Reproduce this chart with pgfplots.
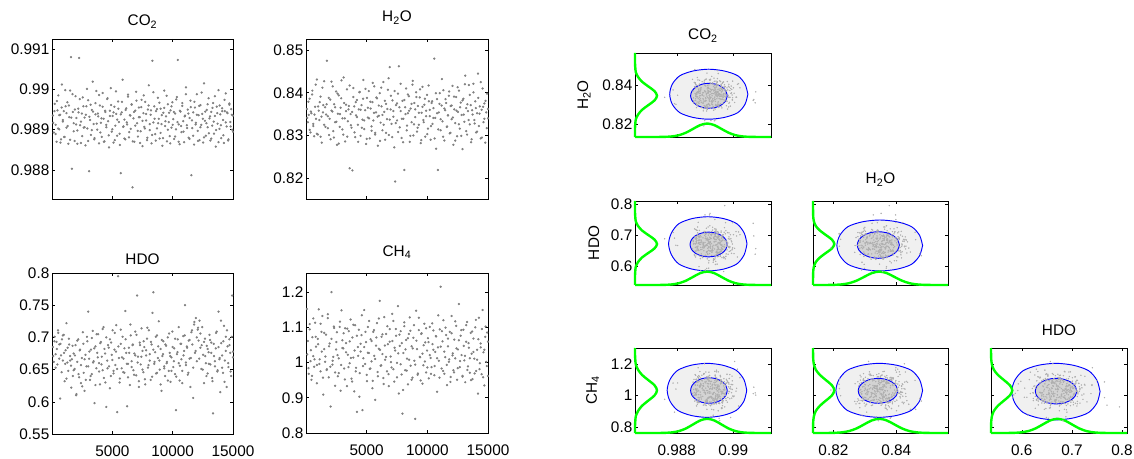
\documentclass[border=0pt]{standalone}
\usepackage{fontspec}
\setmainfont{Liberation Sans}
\usepackage{pgfplots}
\usepackage{pgfplotstable}
\pgfplotsset{compat=1.18}
\definecolor{mgreen}{RGB}{0,255,0}
\definecolor{mblue}{RGB}{0,0,255}
\definecolor{dotgray}{RGB}{128,128,128}
\definecolor{cloudgray}{RGB}{175,175,175}

\pgfplotstableread{
it co2 h2o hdo ch4
75 0.98935 0.8362 0.685 1.152
150 0.98893 0.8331 0.662 1.061
225 0.98964 0.8348 0.701 0.968
300 0.98912 0.8386 0.674 1.109
375 0.98870 0.8307 0.693 1.004
450 0.98948 0.8352 0.658 0.951
525 0.98985 0.8405 0.707 1.072
600 0.98901 0.8322 0.689 1.018
675 0.98937 0.8298 0.605 0.988
750 0.98876 0.8367 0.672 1.113
825 0.99012 0.8339 0.697 1.045
900 0.98920 0.8431 0.664 0.993
975 0.98946 0.8302 0.704 1.067
1050 0.98882 0.8358 0.632 1.151
1125 0.98958 0.8378 0.680 1.009
1200 0.98905 0.8297 0.722 0.975
1275 0.98968 0.8344 0.661 1.087
1350 0.98865 0.8412 0.648 1.132
1425 0.98931 0.8371 0.689 0.909
1500 0.98997 0.8325 0.671 1.038
1575 0.99080 0.8366 0.656 1.002
1650 0.98803 0.8349 0.666 1.079
1725 0.98944 0.8475 0.640 0.981
1800 0.98916 0.8317 0.675 1.126
1875 0.98872 0.8388 0.651 0.958
1950 0.98983 0.8339 0.688 1.054
2025 0.98929 0.8291 0.612 0.875
2100 0.98898 0.8426 0.662 1.200
2175 0.98952 0.8356 0.697 0.994
2250 0.99078 0.8310 0.638 1.016
2325 0.98911 0.8373 0.681 1.098
2400 0.98867 0.8331 0.629 0.972
2475 0.98940 0.8403 0.668 1.037
2550 0.98980 0.8278 0.708 1.086
2625 0.98905 0.8351 0.645 0.961
2700 0.98930 0.8394 0.617 1.012
2775 0.98861 0.8320 0.673 1.101
2850 0.98958 0.8365 0.655 0.920
2925 0.98903 0.8429 0.694 1.148
3000 0.98973 0.8340 0.740 1.063
3075 0.98797 0.8302 0.667 1.040
3150 0.98924 0.8376 0.634 0.983
3225 0.98887 0.8286 0.681 1.097
3300 0.98949 0.8357 0.643 1.055
3375 0.99019 0.8408 0.710 0.933
3450 0.98914 0.8333 0.663 1.022
3525 0.98879 0.8369 0.598 1.089
3600 0.98938 0.8223 0.686 0.998
3675 0.98996 0.8350 0.652 1.122
3750 0.98900 0.8318 0.676 0.954
3825 0.98933 0.8218 0.705 1.071
3900 0.98866 0.8411 0.660 1.014
3975 0.98960 0.8368 0.627 0.918
4050 0.98917 0.8296 0.693 1.106
4125 0.98882 0.8347 0.670 0.985
4200 0.98991 0.8383 0.649 0.860
4275 0.98927 0.8325 0.716 1.044
4350 0.98871 0.8361 0.682 1.093
4425 0.98944 0.8402 0.630 0.970
4500 0.98906 0.8299 0.592 1.031
4575 0.98976 0.8371 0.664 1.078
4650 0.98921 0.8337 0.688 0.865
4725 0.98856 0.8430 0.655 1.012
4800 0.98947 0.8315 0.697 1.149
4875 0.99003 0.8359 0.640 0.996
4950 0.98895 0.8280 0.673 1.058
5025 0.98934 0.8388 0.711 0.947
5100 0.98868 0.8342 0.648 1.101
5175 0.98957 0.8404 0.681 1.027
5250 0.98910 0.8293 0.657 0.982
5325 0.98939 0.8363 0.719 1.066
5400 0.98885 0.8321 0.584 1.003
5475 0.98970 0.8378 0.795 0.927
5550 0.98919 0.8335 0.668 1.087
5625 0.98862 0.8415 0.636 1.019
5700 0.98792 0.8306 0.690 0.894
5775 0.98943 0.8354 0.652 1.048
5850 0.99024 0.8387 0.701 1.112
5925 0.98908 0.8276 0.667 0.961
6000 0.98925 0.8346 0.645 1.039
6075 0.98876 0.8399 0.741 1.175
6150 0.98953 0.8330 0.676 0.991
6225 0.98913 0.8368 0.593 1.073
6300 0.98987 0.8312 0.659 1.024
6375 0.98881 0.8425 0.684 0.956
6450 0.98936 0.8355 0.626 1.129
6525 0.98902 0.8290 0.703 1.008
6600 0.98962 0.8374 0.663 1.081
6675 0.98757 0.8338 0.688 0.975
6750 0.98928 0.8407 0.649 1.052
6825 0.98870 0.8301 0.675 0.933
6900 0.98947 0.8460 0.709 1.095
6975 0.98994 0.8361 0.641 1.017
7050 0.98916 0.8327 0.765 0.986
7125 0.98883 0.8382 0.670 1.061
7200 0.98955 0.8344 0.632 1.118
7275 0.98931 0.8272 0.692 0.946
7350 0.98896 0.8192 0.658 1.034
7425 0.98974 0.8371 0.714 1.076
7500 0.98859 0.8335 0.679 0.999
7575 0.98941 0.8398 0.646 1.160
7650 0.98907 0.8462 0.685 0.912
7725 0.98969 0.8319 0.627 1.047
7800 0.98923 0.8357 0.672 1.089
7875 0.98874 0.8294 0.698 0.966
7950 0.98950 0.8381 0.653 0.855
8025 0.99010 0.8339 0.711 1.027
8100 0.98899 0.8219 0.664 1.103
8175 0.98937 0.8366 0.634 0.978
8250 0.98866 0.8410 0.689 1.064
8325 0.99071 0.8323 0.738 1.011
8400 0.98918 0.8352 0.770 0.938
8475 0.98958 0.8392 0.659 1.081
8550 0.98889 0.8285 0.677 1.128
8625 0.98946 0.8363 0.644 0.991
8700 0.98903 0.8331 0.703 1.046
8775 0.98979 0.8419 0.668 0.957
8850 0.98927 0.8300 0.725 1.070
8925 0.98878 0.8376 0.650 1.005
9000 0.98952 0.8343 0.682 0.840
9075 0.98914 0.8401 0.617 1.147
9150 0.98860 0.8309 0.671 1.038
9225 0.98942 0.8369 0.694 0.969
9300 0.98997 0.8325 0.655 1.092
9375 0.98909 0.8389 0.640 1.016
9450 0.98933 0.8282 0.687 0.949
9525 0.98871 0.8353 0.662 1.083
9600 0.98963 0.8414 0.700 1.025
9675 0.98919 0.8336 0.648 0.992
9750 0.98884 0.8372 0.676 1.110
9825 0.98948 0.8297 0.631 1.057
9900 0.98905 0.8358 0.669 0.972
9975 0.98968 0.8395 0.709 1.034
10050 0.98926 0.8316 0.654 1.069
10125 0.98877 0.8380 0.683 0.955
10200 0.98940 0.8345 0.643 1.101
10275 0.98901 0.8290 0.587 1.013
10350 0.98981 0.8376 0.674 0.987
10425 0.99073 0.8327 0.697 1.052
10500 0.98913 0.8364 0.660 1.091
10575 0.98864 0.8480 0.633 0.964
10650 0.98945 0.8341 0.690 1.030
10725 0.98894 0.8269 0.666 1.074
10800 0.98959 0.8385 0.648 0.917
10875 0.98921 0.8219 0.702 1.043
10950 0.98869 0.8354 0.679 1.005
11025 0.98935 0.8399 0.750 1.094
11100 0.99005 0.8312 0.657 1.215
11175 0.98911 0.8370 0.686 0.983
11250 0.98950 0.8333 0.642 1.060
11325 0.98880 0.8406 0.695 1.120
11400 0.98929 0.8288 0.667 0.968
11475 0.98972 0.8359 0.623 1.015
11550 0.98787 0.8376 0.708 1.078
11625 0.98904 0.8321 0.689 0.936
11700 0.98943 0.8347 0.606 1.046
11775 0.98863 0.8393 0.720 1.002
11850 0.98955 0.8305 0.676 1.087
11925 0.98917 0.8369 0.730 0.959
12000 0.98988 0.8338 0.663 1.132
12075 0.98897 0.8416 0.712 1.020
12150 0.98936 0.8278 0.695 0.978
12225 0.98874 0.8361 0.726 1.065
12300 0.98961 0.8329 0.684 1.012
12375 0.98912 0.8390 0.651 1.104
12450 0.98939 0.8298 0.716 0.951
12525 0.98868 0.8355 0.673 1.037
12600 0.99015 0.8405 0.629 1.166
12675 0.98922 0.8316 0.698 0.987
12750 0.98885 0.8377 0.660 1.076
12825 0.98949 0.8348 0.687 1.021
12900 0.98906 0.8268 0.644 0.962
12975 0.98978 0.8386 0.677 1.093
13050 0.98928 0.8332 0.704 1.006
13125 0.98873 0.8440 0.658 0.944
13200 0.98944 0.8364 0.692 1.059
13275 0.98910 0.8302 0.637 1.115
13350 0.98966 0.8357 0.582 0.989
13425 0.98890 0.8418 0.671 1.042
13500 0.98934 0.8326 0.655 0.971
13575 0.98858 0.8371 0.683 1.084
13650 0.98957 0.8291 0.709 1.025
13725 0.98915 0.8349 0.649 0.953
13800 0.98998 0.8421 0.740 1.068
13875 0.98902 0.8336 0.666 1.011
13950 0.98938 0.8380 0.615 1.100
14025 0.98879 0.8307 0.691 0.976
14100 0.98953 0.8352 0.672 1.036
14175 0.98924 0.8445 0.645 0.912
14250 0.98867 0.8322 0.718 1.127
14325 0.98946 0.8368 0.664 0.998
14400 0.98990 0.8293 0.701 1.054
14475 0.98908 0.8360 0.623 0.967
14550 0.98941 0.8410 0.686 1.149
14625 0.98876 0.8331 0.654 1.029
14700 0.98962 0.8375 0.697 0.935
14775 0.98919 0.8283 0.676 1.073
14850 0.98951 0.8354 0.640 1.002
14925 0.98900 0.8398 0.765 1.085
15000 0.98935 0.8340 0.678 0.962
100 0.98917 0.8341 0.671 1.023
200 0.98946 0.8379 0.694 0.984
300 0.98889 0.8313 0.653 1.094
400 0.98971 0.8356 0.682 1.035
500 0.98903 0.8396 0.711 0.962
600 0.98936 0.8327 0.667 1.125
700 0.98868 0.8349 0.690 1.009
800 0.98955 0.8419 0.646 1.073
900 0.98924 0.8304 0.703 0.941
1000 0.98882 0.8368 0.676 1.052
1100 0.98998 0.8336 0.659 0.996
1200 0.98941 0.8391 0.636 1.110
1300 0.98909 0.8283 0.684 1.031
1400 0.98960 0.8354 0.698 0.957
1500 0.98875 0.8427 0.664 1.084
1600 0.98930 0.8320 0.622 1.017
1700 0.98988 0.8373 0.687 0.979
1800 0.98896 0.8345 0.649 1.137
1900 0.98950 0.8301 0.672 1.046
2000 0.98913 0.8384 0.610 0.988
2100 0.98865 0.8358 0.695 1.067
2200 0.98943 0.8415 0.643 1.005
2300 0.98976 0.8295 0.680 1.102
2400 0.98920 0.8366 0.657 0.934
2500 0.98884 0.8332 0.624 1.058
2600 0.98958 0.8398 0.690 1.021
2700 0.98906 0.8281 0.666 0.970
2800 0.98937 0.8350 0.634 1.116
2900 0.99001 0.8387 0.701 0.993
3000 0.98872 0.8314 0.655 1.041
3100 0.98932 0.8436 0.678 1.083
3200 0.98962 0.8340 0.640 0.952
3300 0.98899 0.8372 0.699 1.029
3400 0.98945 0.8297 0.661 1.096
3500 0.98876 0.8361 0.683 0.987
3600 0.98966 0.8417 0.626 1.060
3700 0.98915 0.8324 0.705 1.013
3800 0.98940 0.8355 0.669 0.946
3900 0.98986 0.8390 0.647 1.107
4000 0.98893 0.8307 0.691 1.034
4100 0.98928 0.8378 0.658 0.975
4200 0.98957 0.8343 0.713 1.076
4300 0.98870 0.8285 0.637 1.019
4400 0.98947 0.8401 0.675 0.903
4500 0.98912 0.8360 0.700 1.053
4600 0.98978 0.8318 0.652 1.134
4700 0.98886 0.8386 0.684 0.990
4800 0.98934 0.8335 0.621 1.044
4900 0.98961 0.8409 0.692 1.087
5000 0.98901 0.8292 0.665 0.965
5100 0.98943 0.8365 0.644 1.028
5200 0.98874 0.8340 0.707 1.118
5300 0.98995 0.8379 0.678 0.983
5400 0.98925 0.8311 0.651 1.061
5500 0.98952 0.8423 0.686 0.948
5600 0.98890 0.8353 0.630 1.092
5700 0.98938 0.8302 0.712 1.010
5800 0.98969 0.8389 0.669 1.071
5900 0.98907 0.8344 0.646 0.973
6000 0.98878 0.8370 0.683 1.125
6100 0.98949 0.8287 0.697 1.036
6200 0.98918 0.8412 0.659 0.992
6300 0.98982 0.8348 0.638 1.080
6400 0.98894 0.8325 0.676 0.939
6500 0.98935 0.8381 0.720 1.048
6600 0.98963 0.8306 0.654 1.016
6700 0.98871 0.8362 0.689 1.103
6800 0.98944 0.8434 0.642 0.967
6900 0.98910 0.8337 0.672 1.059
7000 0.98972 0.8393 0.704 1.001
7100 0.98897 0.8296 0.661 1.138
7200 0.98931 0.8357 0.623 0.981
7300 0.98867 0.8404 0.688 1.042
7400 0.98956 0.8329 0.670 1.095
7500 0.98922 0.8375 0.650 0.958
7600 0.98985 0.8308 0.694 1.026
7700 0.98903 0.8366 0.635 1.079
7800 0.98939 0.8421 0.680 0.995
7900 0.98880 0.8339 0.715 1.055
8000 0.98960 0.8284 0.657 0.922
8100 0.98914 0.8383 0.674 1.114
8200 0.98948 0.8350 0.693 1.037
8300 0.98887 0.8312 0.639 0.977
8400 0.98993 0.8396 0.681 1.069
8500 0.98927 0.8358 0.662 1.008
8600 0.98873 0.8299 0.701 1.090
8700 0.98951 0.8374 0.645 0.951
8800 0.98916 0.8428 0.686 1.040
8900 0.98967 0.8326 0.664 1.106
9000 0.98892 0.8361 0.627 0.994
9100 0.98936 0.8390 0.696 1.062
9200 0.98879 0.8318 0.674 0.965
9300 0.98954 0.8353 0.652 1.127
9400 0.98921 0.8408 0.689 1.015
9500 0.98984 0.8289 0.660 1.081
9600 0.98900 0.8367 0.633 0.940
9700 0.98942 0.8331 0.706 1.049
9800 0.98866 0.8386 0.671 1.003
9900 0.98958 0.8345 0.648 1.097
10000 0.98912 0.8303 0.685 0.986
10100 0.98944 0.8417 0.663 1.058
10200 0.98883 0.8360 0.698 1.021
10300 0.98975 0.8322 0.639 0.968
10400 0.98919 0.8380 0.677 1.111
10500 0.98870 0.8341 0.716 1.036
10600 0.98947 0.8293 0.656 0.990
10700 0.98909 0.8399 0.690 1.075
10800 0.98966 0.8352 0.629 1.012
10900 0.98895 0.8314 0.672 1.134
11000 0.98933 0.8374 0.703 0.957
11100 0.98988 0.8338 0.661 1.045
11200 0.98904 0.8432 0.684 1.089
11300 0.98940 0.8297 0.645 0.976
11400 0.98877 0.8363 0.696 1.031
11500 0.98956 0.8385 0.668 1.099
11600 0.98923 0.8320 0.711 0.993
11700 0.98885 0.8347 0.653 1.068
11800 0.98969 0.8403 0.724 1.009
11900 0.98913 0.8306 0.679 0.945
12000 0.98937 0.8370 0.700 1.083
12100 0.98872 0.8342 0.715 1.026
12200 0.98959 0.8391 0.667 0.972
12300 0.98906 0.8288 0.706 1.117
12400 0.98992 0.8358 0.688 1.040
12500 0.98927 0.8413 0.650 0.984
12600 0.98881 0.8326 0.693 1.063
12700 0.98945 0.8366 0.671 1.004
12800 0.98916 0.8299 0.640 1.092
12900 0.98963 0.8382 0.682 0.960
13000 0.98891 0.8349 0.659 1.047
13100 0.98933 0.8420 0.696 1.019
13200 0.98878 0.8310 0.676 1.106
13300 0.98954 0.8373 0.632 0.979
13400 0.98920 0.8336 0.690 1.055
13500 0.98983 0.8395 0.663 1.012
13600 0.98899 0.8284 0.707 0.950
13700 0.98941 0.8359 0.647 1.088
13800 0.98869 0.8401 0.685 1.030
13900 0.98960 0.8328 0.668 0.969
14000 0.98911 0.8364 0.726 1.121
14100 0.98946 0.8309 0.653 1.008
14200 0.98886 0.8388 0.694 1.066
14300 0.98974 0.8351 0.631 0.981
14400 0.98918 0.8425 0.679 1.043
14500 0.98943 0.8295 0.711 1.095
14600 0.98873 0.8367 0.660 0.958
14700 0.98965 0.8339 0.688 1.036
14800 0.98908 0.8381 0.647 1.102
14900 0.98937 0.8317 0.701 0.990
15000 0.98895 0.8362 0.669 1.059
}\samples

\pgfplotstableread{
co2 h2o hdo ch4 bA bB bC lA lB lC
0.98652 0.8135 0.5385 0.7620 0.81350 0.5385 0.7620 0.98652 0.81350 0.53850
0.98733 0.8178 0.5695 0.8045 0.81352 0.5386 0.7622 0.98652 0.81352 0.53860
0.98758 0.8202 0.5840 0.8370 0.81358 0.5390 0.7630 0.98653 0.81358 0.53900
0.98783 0.8226 0.5985 0.8695 0.81380 0.5404 0.7660 0.98655 0.81380 0.54040
0.98808 0.8250 0.6130 0.9020 0.81443 0.5444 0.7742 0.98663 0.81440 0.54425
0.98833 0.8274 0.6275 0.9345 0.81574 0.5526 0.7912 0.98677 0.81570 0.55230
0.98858 0.8298 0.6420 0.9670 0.81768 0.5648 0.8166 0.98699 0.81760 0.56430
0.98883 0.8322 0.6565 0.9995 0.81959 0.5768 0.8414 0.98721 0.81950 0.57600
0.98908 0.8346 0.6710 1.0320 0.82040 0.5819 0.8520 0.98730 0.82030 0.58100
0.98933 0.8370 0.6855 1.0645 0.81959 0.5768 0.8414 0.98721 0.81950 0.57600
0.98958 0.8394 0.7000 1.0970 0.81768 0.5648 0.8166 0.98699 0.81760 0.56430
0.98983 0.8418 0.7145 1.1295 0.81574 0.5526 0.7912 0.98677 0.81570 0.55230
0.99008 0.8442 0.7290 1.1620 0.81443 0.5444 0.7742 0.98663 0.81440 0.54425
0.99033 0.8466 0.7435 1.1945 0.81380 0.5404 0.7660 0.98655 0.81380 0.54040
0.99058 0.8490 0.7580 1.2270 0.81358 0.5390 0.7630 0.98653 0.81358 0.53900
0.99083 0.8514 0.7725 1.2595 0.81352 0.5386 0.7622 0.98652 0.81352 0.53860
0.99134 0.8565 0.8100 1.3000 0.81350 0.5385 0.7620 0.98652 0.81350 0.53850
}\marg

\pgfplotsset{
  base/.style={scale only axis, anchor=north west, scaled ticks=false,
    tick align=inside, major tick length=2.5pt,
    axis line style={line width=0.5pt},
    every tick/.style={black, line width=0.4pt},
    tick label style={font=\fontsize{11.5}{13}\selectfont},
    xticklabel style={yshift=-5pt},
    yticklabel style={xshift=1.5pt},
    title style={font=\fontsize{11.5}{13}\selectfont, at={(0.5,1)}, anchor=base},
    label style={font=\fontsize{11.5}{13}\selectfont},
    /pgf/number format/assume math mode=true},
  ts/.style={base, xmin=0, xmax=15000, xtick={5000,10000,15000}},
  pp/.style={base, clip=false, ylabel shift=2pt},
  dots/.style={only marks, color=dotgray, fill=dotgray, mark=*, mark size=0.65pt, mark options={draw=none, fill=dotgray}},
  cloud/.style={only marks, color=cloudgray, fill=cloudgray, mark=*, mark size=0.3pt, mark options={draw=none, fill=cloudgray}},
  outerc/.style={mblue, line width=0.7pt, smooth, fill=black, fill opacity=0.06},
  innerc/.style={mblue, line width=0.7pt, smooth, fill=black, fill opacity=0.12},
  marg/.style={mgreen, line width=1.8pt, smooth},
}

\begin{document}
\begin{tikzpicture}
\useasboundingbox (0,0) rectangle (850.5pt,-344.25pt);

% ---------------- left: traces ----------------
\begin{axis}[ts, at={(39pt,-29.25pt)}, width=135.75pt, height=120pt,
  ymin=0.98728, ymax=0.99125, ytick={0.988,0.989,0.99,0.991},
  yticklabels={0.988,0.989,0.99,0.991}, xticklabels={},
  title={CO\textsubscript{2}}, title style={yshift=4pt}]
\addplot[dots] table[x=it,y=co2]{\samples};
\end{axis}

\begin{axis}[ts, at={(229.5pt,-29.25pt)}, width=136.5pt, height=120pt,
  ymin=0.8151, ymax=0.8526, ytick={0.82,0.83,0.84,0.85},
  yticklabels={0.82,0.83,0.84,0.85}, xticklabels={},
  title={H\textsubscript{2}O}, title style={yshift=7pt}]
\addplot[dots] table[x=it,y=h2o]{\samples};
\end{axis}

\begin{axis}[ts, at={(39pt,-204.75pt)}, width=135.75pt, height=120.75pt,
  ymin=0.55, ymax=0.8, ytick={0.55,0.6,0.65,0.7,0.75,0.8},
  yticklabels={0.55,0.6,0.65,0.7,0.75,0.8}, xticklabels={5000,10000,15000},
  title={HDO}, title style={yshift=0.5pt}]
\addplot[dots] table[x=it,y=hdo]{\samples};
\end{axis}

\begin{axis}[ts, at={(229.5pt,-204.75pt)}, width=136.5pt, height=120pt,
  ymin=0.8, ymax=1.254, ytick={0.8,0.9,1,1.1,1.2},
  yticklabels={0.8,0.9,1,1.1,1.2}, xticklabels={5000,10000,15000},
  title={CH\textsubscript{4}}, title style={yshift=6.5pt}]
\addplot[dots] table[x=it,y=ch4]{\samples};
\end{axis}

% ---------------- right: pairs ----------------
% R1: CO2 vs H2O
\begin{axis}[pp, at={(476.25pt,-39.75pt)}, width=102pt, height=63pt,
  xmin=0.98652, xmax=0.99134, ymin=0.8135, ymax=0.8565,
  xtick={0.988,0.99}, xticklabels={}, ytick={0.82,0.84}, yticklabels={0.82,0.84},
  ylabel={H\textsubscript{2}O}, title={CO\textsubscript{2}}, title style={yshift=4pt}]
\addplot[cloud] table[x=co2,y=h2o]{\samples};
\addplot[outerc] coordinates {(0.99052,0.8354) (0.99042,0.84052) (0.99016,0.84487) (0.98968,0.8473) (0.98913,0.8482) (0.98858,0.8473) (0.98811,0.84487) (0.98784,0.84052) (0.98775,0.8354) (0.98784,0.83028) (0.98811,0.82593) (0.98858,0.8235) (0.98913,0.8226) (0.98968,0.8235) (0.99016,0.82593) (0.99042,0.83028) (0.99052,0.8354)};
\addplot[innerc] coordinates {(0.98979,0.8346) (0.98974,0.83705) (0.98960,0.83912) (0.98939,0.84051) (0.98914,0.8410) (0.98889,0.84051) (0.98868,0.83912) (0.98854,0.83705) (0.98849,0.8346) (0.98854,0.83215) (0.98868,0.83008) (0.98889,0.82869) (0.98914,0.8282) (0.98939,0.82869) (0.98960,0.83008) (0.98974,0.83215) (0.98979,0.8346)};
\addplot[marg] table[x=co2,y=bA]{\marg};
\addplot[marg] table[x=lA,y=h2o]{\marg};
\end{axis}

% R2a: CO2 vs HDO
\begin{axis}[pp, at={(476.25pt,-150.75pt)}, width=102pt, height=63pt,
  xmin=0.98652, xmax=0.99134, ymin=0.5385, ymax=0.81,
  xtick={0.988,0.99}, xticklabels={}, ytick={0.6,0.7,0.8}, yticklabels={0.6,0.7,0.8},
  ylabel={HDO}]
\addplot[cloud] table[x=co2,y=hdo]{\samples};
\addplot[outerc] coordinates {(0.99049,0.6715) (0.99039,0.7066) (0.99013,0.7364) (0.98966,0.7531) (0.9891,0.7592) (0.98854,0.7531) (0.98807,0.7364) (0.98781,0.7066) (0.98771,0.6715) (0.98781,0.6364) (0.98807,0.6066) (0.98854,0.5899) (0.9891,0.5838) (0.98966,0.5899) (0.99013,0.6066) (0.99039,0.6364) (0.99049,0.6715)};
\addplot[innerc] coordinates {(0.98979,0.6694) (0.98974,0.6847) (0.98960,0.6977) (0.98938,0.7064) (0.98913,0.7094) (0.98888,0.7064) (0.98866,0.6977) (0.98852,0.6847) (0.98847,0.6694) (0.98852,0.6541) (0.98866,0.6411) (0.98888,0.6324) (0.98913,0.6294) (0.98938,0.6324) (0.98960,0.6411) (0.98974,0.6541) (0.98979,0.6694)};
\addplot[marg] table[x=co2,y=bB]{\marg};
\addplot[marg] table[x=lA,y=hdo]{\marg};
\end{axis}

% R2b: H2O vs HDO
\begin{axis}[pp, at={(609.75pt,-150.75pt)}, width=101.25pt, height=63pt,
  xmin=0.8135, xmax=0.8565, ymin=0.5385, ymax=0.81,
  xtick={0.82,0.84}, xticklabels={}, ytick={0.6,0.7,0.8}, yticklabels={},
  title={H\textsubscript{2}O}, title style={yshift=7pt}]
\addplot[cloud] table[x=h2o,y=hdo]{\samples};
\addplot[outerc] coordinates {(0.8484,0.6662) (0.84744,0.69916) (0.84485,0.7272) (0.84021,0.74283) (0.83475,0.7486) (0.82929,0.74283) (0.82465,0.7272) (0.82206,0.69916) (0.8211,0.6662) (0.82206,0.63324) (0.82465,0.6052) (0.82929,0.58957) (0.83475,0.5838) (0.84021,0.58957) (0.84485,0.6052) (0.84744,0.63324) (0.8484,0.6662)};
\addplot[innerc] coordinates {(0.8410,0.6678) (0.84049,0.68427) (0.83904,0.6982) (0.83687,0.70753) (0.8343,0.7108) (0.83173,0.70753) (0.82956,0.6982) (0.82811,0.68427) (0.8276,0.6678) (0.82811,0.65133) (0.82956,0.6374) (0.83173,0.62807) (0.8343,0.6248) (0.83687,0.62807) (0.83904,0.6374) (0.84049,0.65133) (0.8410,0.6678)};
\addplot[marg] table[x=h2o,y=bB]{\marg};
\addplot[marg] table[x=lB,y=hdo]{\marg};
\end{axis}

% R3a: CO2 vs CH4
\begin{axis}[pp, at={(476.25pt,-261pt)}, width=102pt, height=63.75pt,
  xmin=0.98652, xmax=0.99134, ymin=0.762, ymax=1.30,
  xtick={0.988,0.99}, xticklabels={0.988,0.99}, ytick={0.8,1,1.2}, yticklabels={0.8,1,1.2},
  ylabel={CH\textsubscript{4}}]
\addplot[cloud] table[x=co2,y=ch4]{\samples};
\addplot[outerc] coordinates {(0.99048,1.032) (0.99038,1.1004) (0.99011,1.1585) (0.98963,1.191) (0.98907,1.203) (0.98851,1.191) (0.98803,1.1585) (0.98776,1.1004) (0.98766,1.032) (0.98776,0.9636) (0.98803,0.9055) (0.98851,0.873) (0.98907,0.861) (0.98963,0.873) (0.99011,0.9055) (0.99038,0.9636) (0.99048,1.032)};
\addplot[innerc] coordinates {(0.98979,1.031) (0.98974,1.0620) (0.98960,1.0883) (0.98939,1.1058) (0.98914,1.112) (0.98889,1.1058) (0.98868,1.0883) (0.98854,1.0620) (0.98849,1.031) (0.98854,1.0000) (0.98868,0.9737) (0.98889,0.9562) (0.98914,0.950) (0.98939,0.9562) (0.98960,0.9737) (0.98974,1.0000) (0.98979,1.031)};
\addplot[marg] table[x=co2,y=bC]{\marg};
\addplot[marg] table[x=lA,y=ch4]{\marg};
\end{axis}

% R3b: H2O vs CH4
\begin{axis}[pp, at={(609.75pt,-261pt)}, width=101.25pt, height=63.75pt,
  xmin=0.8135, xmax=0.8565, ymin=0.762, ymax=1.30,
  xtick={0.82,0.84}, xticklabels={0.82,0.84}, ytick={0.8,1,1.2}, yticklabels={}]
\addplot[cloud] table[x=h2o,y=ch4]{\samples};
\addplot[outerc] coordinates {(0.8484,1.032) (0.84743,1.1004) (0.84481,1.1585) (0.84012,1.191) (0.8346,1.203) (0.82908,1.191) (0.82439,1.1585) (0.82177,1.1004) (0.8208,1.032) (0.82177,0.9636) (0.82439,0.9055) (0.82908,0.873) (0.8346,0.861) (0.84012,0.873) (0.84481,0.9055) (0.84743,0.9636) (0.8484,1.032)};
\addplot[innerc] coordinates {(0.8405,1.029) (0.84002,1.0593) (0.83865,1.0849) (0.83661,1.102) (0.8342,1.108) (0.83179,1.102) (0.82975,1.0849) (0.82838,1.0593) (0.8279,1.029) (0.82838,0.9987) (0.82975,0.9732) (0.83179,0.956) (0.8342,0.950) (0.83661,0.956) (0.83865,0.9732) (0.84002,0.9987) (0.8405,1.029)};
\addplot[marg] table[x=h2o,y=bC]{\marg};
\addplot[marg] table[x=lB,y=ch4]{\marg};
\end{axis}

% R3c: HDO vs CH4
\begin{axis}[pp, at={(743.25pt,-261pt)}, width=102pt, height=63.75pt,
  xmin=0.5385, xmax=0.81, ymin=0.762, ymax=1.30,
  xtick={0.6,0.7,0.8}, xticklabels={0.6,0.7,0.8}, ytick={0.8,1,1.2}, yticklabels={},
  title={HDO}, title style={yshift=3.5pt}]
\addplot[cloud] table[x=hdo,y=ch4]{\samples};
\addplot[outerc] coordinates {(0.7562,1.024) (0.75003,1.0956) (0.73327,1.1565) (0.70328,1.1905) (0.668,1.203) (0.63272,1.1905) (0.60273,1.1565) (0.58597,1.0956) (0.5798,1.024) (0.58597,0.9524) (0.60273,0.8915) (0.63272,0.8575) (0.668,0.845) (0.70328,0.8575) (0.73327,0.8915) (0.75003,0.9524) (0.7562,1.024)};
\addplot[innerc] coordinates {(0.7097,1.027) (0.70655,1.0580) (0.69757,1.0843) (0.68416,1.1018) (0.6683,1.108) (0.65244,1.1018) (0.63903,1.0843) (0.63005,1.0580) (0.6269,1.027) (0.63005,0.9960) (0.63903,0.9697) (0.65244,0.9522) (0.6683,0.946) (0.68416,0.9522) (0.69757,0.9697) (0.70655,0.9960) (0.7097,1.027)};
\addplot[marg] table[x=hdo,y=bC]{\marg};
\addplot[marg] table[x=lC,y=ch4]{\marg};
\end{axis}
\end{tikzpicture}
\end{document}
